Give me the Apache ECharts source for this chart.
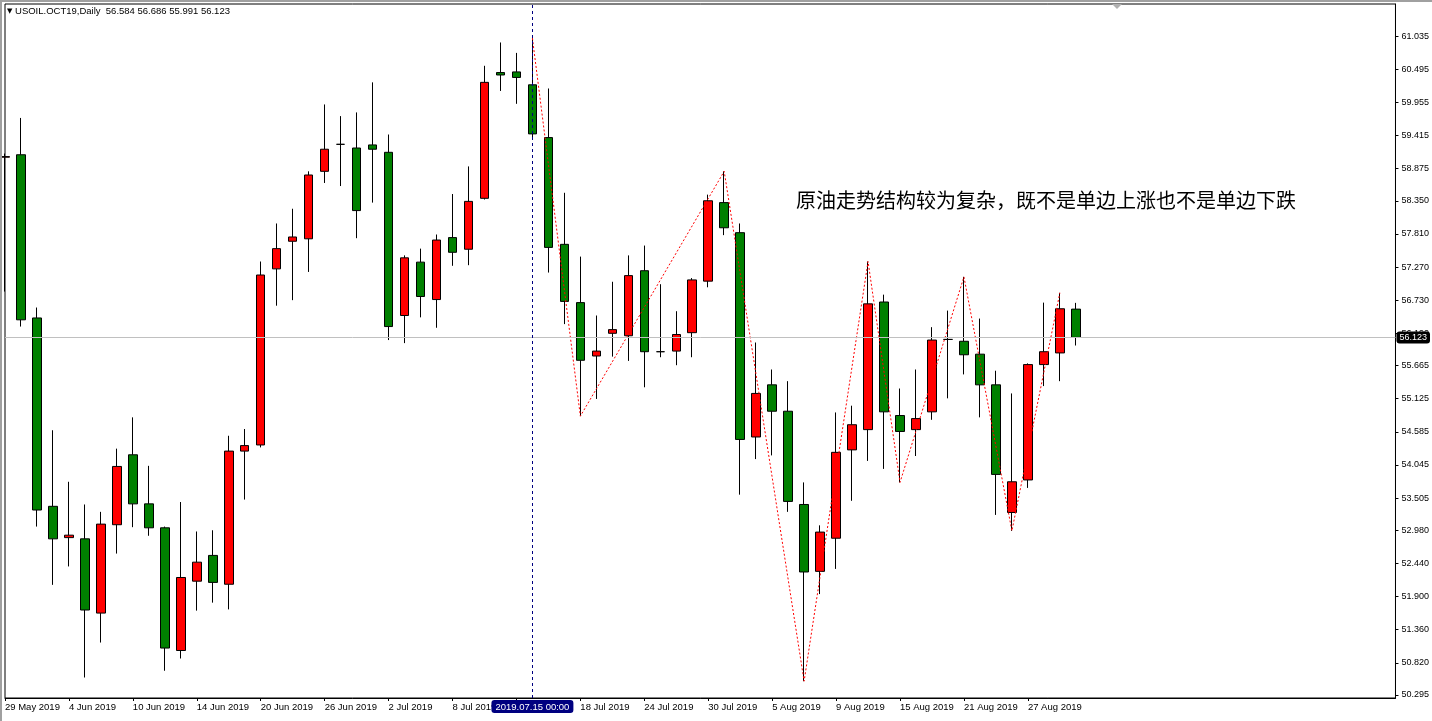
<!DOCTYPE html>
<html><head><meta charset="utf-8">
<script src="https://cdn.jsdelivr.net/npm/echarts@6/dist/echarts.min.js"></script>
<style>html,body{margin:0;padding:0;background:#fff;overflow:hidden}#chart{width:1432px;height:721px}</style>
</head><body><div id="chart"></div>
<script>
const symbolName = 'USOIL.OCT19,Daily';
const dates = [
 '29 May 2019','30 May 2019','31 May 2019','3 Jun 2019','4 Jun 2019','5 Jun 2019','6 Jun 2019','7 Jun 2019',
 '10 Jun 2019','11 Jun 2019','12 Jun 2019','13 Jun 2019','14 Jun 2019','17 Jun 2019','18 Jun 2019','19 Jun 2019',
 '20 Jun 2019','21 Jun 2019','24 Jun 2019','25 Jun 2019','26 Jun 2019','27 Jun 2019','28 Jun 2019','1 Jul 2019',
 '2 Jul 2019','3 Jul 2019','4 Jul 2019','5 Jul 2019','8 Jul 2019','9 Jul 2019','10 Jul 2019','11 Jul 2019',
 '12 Jul 2019','15 Jul 2019','16 Jul 2019','17 Jul 2019','18 Jul 2019','19 Jul 2019','22 Jul 2019','23 Jul 2019',
 '24 Jul 2019','25 Jul 2019','26 Jul 2019','29 Jul 2019','30 Jul 2019','31 Jul 2019','1 Aug 2019','2 Aug 2019',
 '5 Aug 2019','6 Aug 2019','7 Aug 2019','8 Aug 2019','9 Aug 2019','12 Aug 2019','13 Aug 2019','14 Aug 2019',
 '15 Aug 2019','16 Aug 2019','19 Aug 2019','20 Aug 2019','21 Aug 2019','22 Aug 2019','23 Aug 2019','26 Aug 2019',
 '27 Aug 2019','28 Aug 2019','29 Aug 2019','30 Aug 2019'
];
// [open, high, low, close]
const ohlc = [
 [59.06,59.12,56.87,59.07],[59.10,59.70,56.30,56.41],[56.44,56.61,53.04,53.31],[53.37,54.61,52.09,52.84],
 [52.86,53.77,52.39,52.90],[52.84,53.40,50.58,51.68],[51.63,53.28,51.15,53.08],[53.07,54.31,52.60,54.02],
 [54.21,54.82,53.03,53.41],[53.41,54.03,52.89,53.02],[53.02,53.04,50.69,51.06],[51.02,53.44,50.89,52.21],
 [52.15,52.96,51.67,52.46],[52.57,52.98,51.80,52.13],[52.10,54.52,51.69,54.27],[54.27,54.63,53.48,54.36],
 [54.37,57.36,54.33,57.14],[57.24,57.98,56.64,57.57],[57.69,58.22,56.73,57.76],[57.73,58.83,57.19,58.77],
 [58.83,59.92,58.64,59.19],[59.27,59.73,58.59,59.27],[59.21,59.79,57.74,58.19],[59.26,60.28,58.32,59.19],
 [59.14,59.43,56.08,56.30],[56.48,57.46,56.03,57.42],[57.35,57.57,56.45,56.79],[56.74,57.80,56.28,57.71],
 [57.75,58.46,57.29,57.51],[57.56,58.91,57.30,58.34],[58.39,60.55,58.37,60.28],[60.44,60.93,60.14,60.40],
 [60.45,60.76,59.93,60.36],[60.24,61.00,59.38,59.44],[59.38,60.18,57.18,57.59],[57.64,58.48,56.34,56.71],
 [56.69,57.44,54.84,55.75],[55.82,56.48,55.12,55.90],[56.19,57.03,55.81,56.25],[56.15,57.46,55.74,57.13],
 [57.21,57.62,55.31,55.89],[55.89,56.99,55.80,55.89],[55.90,56.55,55.67,56.17],[56.20,57.09,55.80,57.06],
 [57.04,58.45,56.94,58.35],[58.32,58.83,57.79,57.91],[57.83,57.98,53.56,54.46],[54.50,56.04,54.14,55.21],
 [55.35,55.60,54.20,54.92],[54.92,55.41,53.28,53.45],[53.40,53.76,50.52,52.30],[52.31,53.06,51.94,52.95],
 [52.85,54.90,52.35,54.25],[54.29,55.01,53.46,54.70],[54.62,57.36,54.11,56.67],[56.70,56.82,53.98,54.91],
 [54.85,55.29,53.76,54.59],[54.62,55.60,54.19,54.80],[54.91,56.29,54.78,56.08],[56.09,56.56,55.13,56.09],
 [56.06,57.11,55.52,55.84],[55.85,56.43,54.82,55.35],[55.35,55.58,53.23,53.89],[53.27,55.21,52.97,53.77],
 [53.80,55.70,53.67,55.68],[55.68,56.69,55.33,55.89],[55.87,56.85,55.41,56.59],[56.584,56.686,55.991,56.123]
];
// ZigZag turning points: [bar index, price]
const zigzag = [[33,61.00],[36,54.84],[45,58.83],[50,50.52],[54,57.36],[56,53.76],[60,57.11],[63,52.97],[66,56.85]];
const priceTicks = [61.035,60.495,59.955,59.415,58.875,58.350,57.810,57.270,56.730,56.190,55.665,55.125,54.585,54.045,53.505,52.980,52.440,51.900,51.360,50.820,50.295];
const priceRange = [50.246, 61.557];
const crosshairIndex = 33;
const emptySlots = 20;
const annotation = '原油走势结构较为复杂，既不是单边上涨也不是单边下跌';

const categories = dates.concat(Array.from({length: emptySlots}, (_, i) => 'slot' + i));
const candleData = ohlc.map(([o, h, l, c]) => [o, c, l, h]);
const last = ohlc[ohlc.length - 1];
const months = {Jan:'01',Feb:'02',Mar:'03',Apr:'04',May:'05',Jun:'06',Jul:'07',Aug:'08',Sep:'09',Oct:'10',Nov:'11',Dec:'12'};
function mtDate(s) { const [d, m, y] = s.split(' '); return y + '.' + months[m] + '.' + (d.length < 2 ? '0' + d : d) + ' 00:00'; }
const showTick = (idx) => idx % 4 === 0 && idx < dates.length;
const FONT = 'Liberation Sans';

const chart = echarts.init(document.getElementById('chart'), null, {renderer: 'canvas'});
chart.setOption({
  animation: false,
  backgroundColor: '#ffffff',
  title: {
    text: '{tri|▼} ' + symbolName + '  ' + last.map(v => v.toFixed(3)).join(' '),
    left: 7, top: 5, padding: 0,
    textStyle: {fontFamily: FONT, fontSize: 9.5, fontWeight: 'normal', color: '#000', lineHeight: 12,
      rich: {tri: {fontSize: 7, color: '#000', fontFamily: 'DejaVu Sans'}}}
  },
  axisPointer: {triggerOn: 'none'},
  grid: {left: 5, right: 35, top: 4, bottom: 23, show: true, borderColor: '#000', borderWidth: 1, backgroundColor: '#fff'},
  xAxis: {
    type: 'category', data: categories, boundaryGap: false,
    axisLine: {show: true, lineStyle: {color: '#000', width: 1}},
    axisTick: {show: true, interval: showTick, length: 3, lineStyle: {color: '#000'}},
    axisLabel: {show: true, interval: showTick, align: 'left', margin: 4, fontFamily: FONT, fontSize: 9.5, color: '#000',
      formatter: (v, idx) => idx < dates.length ? v : ''},
    splitLine: {show: false},
    axisPointer: {
      show: true, status: 'show', value: crosshairIndex, type: 'line', triggerTooltip: false,
      lineStyle: {color: '#000080', width: 1, type: [3, 3]},
      label: {show: true, backgroundColor: '#000080', color: '#fff', fontFamily: FONT, fontSize: 9.5, padding: [2, 4, 1, 4], margin: 2,
        formatter: () => mtDate(dates[crosshairIndex])}
    }
  },
  yAxis: {
    type: 'value', position: 'right', min: priceRange[0], max: priceRange[1], scale: true,
    axisLine: {show: true, lineStyle: {color: '#000', width: 1}},
    axisTick: {show: true, length: 3, customValues: priceTicks, lineStyle: {color: '#000'}},
    axisLabel: {show: true, customValues: priceTicks, margin: 6, fontFamily: FONT, fontSize: 9, color: '#000',
      formatter: v => Number(v).toFixed(3)},
    splitLine: {show: false},
    axisPointer: {
      show: true, status: 'show', value: last[3], type: 'line', triggerTooltip: false,
      lineStyle: {color: '#c0c0c0', width: 1, type: 'solid'},
      label: {show: true, backgroundColor: '#000', color: '#fff', fontFamily: FONT, fontSize: 9, padding: [2, 3, 1, 3], margin: 1,
        formatter: p => Number(p.value).toFixed(3)}
    }
  },
  series: [
    {
      type: 'candlestick', data: candleData, barWidth: 9, clip: true,
      itemStyle: {color: '#ff0000', color0: '#008000', borderColor: '#000', borderColor0: '#000', borderColorDoji: '#000', borderWidth: 1},
      emphasis: {disabled: true}
    },
    {
      type: 'line', data: zigzag, symbol: 'none', z: 5, silent: true,
      lineStyle: {color: '#ff0000', width: 1, type: [2, 2]}
    }
  ],
  graphic: [
    {type: 'text', left: 796, top: 190, z: 10, silent: true,
     style: {text: annotation, fontFamily: 'Noto Sans CJK SC', fontSize: 20, fill: '#000'}},
    {type: 'polygon', z: 10, silent: true, shape: {points: [[1112, 4], [1122, 4], [1117, 9]]}, style: {fill: '#b0b0b0'}},
    {type: 'rect', z: 10, silent: true, shape: {x: 0, y: 0, width: 1432, height: 2}, style: {fill: '#a0a0a0'}},
    {type: 'rect', z: 10, silent: true, shape: {x: 0, y: 0, width: 2, height: 721}, style: {fill: '#a0a0a0'}}
  ]
});
</script></body></html>
